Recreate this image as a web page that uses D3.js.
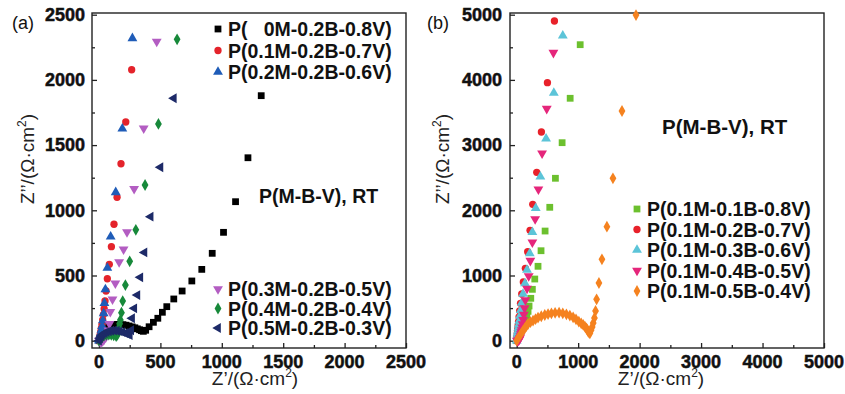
<!DOCTYPE html>
<meta charset="utf-8">
<style>
    body { margin: 0; background: #fff; }
    svg { display: block; font-family: "Liberation Sans", Arial, sans-serif; }
</style>
<svg width="845" height="394"></svg>
<script src="https://cdn.jsdelivr.net/npm/d3@7"></script>
<script>
    // ---- panel (a): P(xM-0.2B-yV) ----
    var a0X = [0, 8, 18, 30, 45, 62, 80, 100, 122, 145, 170, 195, 220, 245, 270, 292, 312, 330, 345, 361, 380, 408, 443, 479, 516, 552, 609, 677, 756, 837, 922, 1014, 1112, 1213, 1321];
    var a0Y = [0, 22, 45, 65, 84, 98, 110, 118, 123, 125, 125, 123, 119, 113, 106, 99, 91, 84, 77, 72, 80, 107, 141, 172, 218, 261, 320, 381, 458, 547, 670, 831, 1066, 1403, 1879];
    var a1X = [0, 3, 6, 10, 14, 19, 24, 30, 36, 42, 49, 57, 68, 84, 101, 122, 147, 179, 218, 266];
    var a1Y = [0, 12, 28, 48, 70, 95, 125, 160, 200, 245, 305, 381, 475, 586, 721, 893, 1100, 1357, 1677, 2078];
    var a2X = [0, 3, 6, 10, 15, 20, 26, 32, 38, 44, 52, 68, 95, 136, 190, 272];
    var a2Y = [0, 10, 22, 38, 58, 82, 112, 155, 210, 287, 394, 558, 798, 1138, 1626, 2319];
    var a3X = [0, 10, 20, 30, 42, 55, 68, 78, 85, 92, 110, 133, 164, 200, 228, 286, 364, 470];
    var a3Y = [0, -8, -8, -2, 10, 25, 45, 80, 130, 222, 317, 440, 603, 700, 833, 1165, 1629, 2293];
    var a4X = [0, 12, 25, 40, 60, 80, 100, 120, 140, 150, 157, 162, 168, 174, 183, 193, 215, 250, 300, 375, 484, 636];
    var a4Y = [0, 15, 28, 38, 45, 47, 45, 40, 35, 45, 70, 100, 130, 159, 215, 304, 427, 609, 850, 1194, 1662, 2311];
    var a5X = [0, 8, 18, 30, 45, 62, 80, 100, 122, 145, 168, 190, 212, 232, 250, 262, 269, 287, 312, 336, 370, 420, 500, 609];
    var a5Y = [0, 18, 35, 48, 58, 66, 72, 76, 78, 76, 72, 66, 58, 50, 44, 80, 172, 248, 350, 486, 677, 951, 1330, 1859];
    var aNames = ["P(   0M-0.2B-0.8V)", "P(0.1M-0.2B-0.7V)", "P(0.2M-0.2B-0.6V)",
        "P(0.3M-0.2B-0.5V)", "P(0.4M-0.2B-0.4V)", "P(0.5M-0.2B-0.3V)"];

    // ---- panel (b): P(0.1M-xB-yV) ----
    var b0X = [0, 10, 22, 35, 50, 65, 82, 100, 120, 142, 165, 185, 201, 229, 255, 294, 347, 396, 462, 538, 630, 739, 870, 1033];
    var b0Y = [0, 15, 35, 60, 90, 125, 165, 210, 260, 315, 375, 450, 532, 650, 788, 946, 1141, 1380, 1682, 2046, 2491, 3037, 3718, 4540];
    var b1X = [0, 3, 6, 9, 12, 15, 19, 24, 30, 38, 48, 62, 82, 108, 141, 179, 217, 261, 326, 402, 500, 614];
    var b1Y = [0, 30, 60, 90, 120, 150, 187, 234, 293, 366, 458, 573, 716, 900, 1110, 1365, 1693, 2092, 2583, 3201, 3957, 4903];
    var b2X = [0, 5, 9, 14, 20, 26, 33, 42, 53, 66, 82, 103, 135, 168, 212, 255, 310, 385, 478, 604, 750];
    var b2Y = [0, 40, 75, 110, 150, 195, 245, 305, 380, 470, 580, 716, 880, 1084, 1340, 1663, 2031, 2515, 3098, 3799, 4678];
    var b3X = [5, 15, 25, 35, 44, 52, 60, 68, 75, 82, 89, 97, 106, 116, 128, 141, 168, 195, 222, 255, 300, 353, 413, 489, 597];
    var b3Y = [0, -3, 2, 10, 25, 45, 70, 100, 131, 164, 205, 256, 320, 400, 500, 624, 798, 992, 1227, 1510, 1866, 2322, 2874, 3558, 4417];
    var b4X = [0, 21, 48, 75, 102, 130, 157, 184, 225, 266, 307, 347, 400, 457, 510, 565, 625, 690, 750, 809, 865, 918, 965, 1011, 1050, 1082, 1110, 1136, 1150, 1163, 1178, 1191, 1210, 1228, 1245, 1265, 1283, 1300, 1338, 1387, 1468, 1566, 1713, 1941];
    var b4Y = [0, 37, 75, 113, 152, 190, 225, 256, 285, 307, 332, 353, 375, 394, 408, 420, 427, 429, 420, 405, 385, 359, 328, 292, 265, 241, 215, 190, 165, 138, 125, 113, 160, 210, 270, 350, 456, 635, 885, 1248, 1748, 2491, 3523, 4995];
    var bNames = ["P(0.1M-0.1B-0.8V)", "P(0.1M-0.2B-0.7V)", "P(0.1M-0.3B-0.6V)",
        "P(0.1M-0.4B-0.5V)", "P(0.1M-0.5B-0.4V)"];

    var aTicks = [0, 500, 1000, 1500, 2000, 2500],
        bTicks = [0, 1000, 2000, 3000, 4000, 5000];

    var svg = d3.select("svg"),
        FONT_TICK = 18,
        FONT_LEG = 19.5,
        FONT_TITLE = 19;

    // marker shapes: [symbol, rotate, area]
    var SQUARE = [d3.symbolSquare, 0, 46],
        CIRCLE = [d3.symbolCircle, 0, 42],
        UP = [d3.symbolTriangle, 0, 42],
        DOWN = [d3.symbolTriangle, 180, 42],
        DIAMOND = [d3.symbolDiamond, 0, 40],
        LEFT = [d3.symbolTriangle, -90, 42];

    function pairs(xs, ys) {
        return xs.map(function (d, i) { return [d, ys[i]]; });
    }

    function symPath(shape) {
        return d3.symbol().type(shape[0]).size(shape[2])();
    }

    // tick marks only, labels are drawn by hand so they can be bold
    function tickMarks(sel) {
        sel.select(".domain").remove();
        sel.selectAll(".tick text").remove();
        sel.selectAll(".tick line").attr("stroke", "#222").attr("stroke-width", 1.3);
    }

    function heavy(sel) {
        sel.attr("font-size", FONT_TICK)
            .attr("font-weight", "bold")
            .attr("fill", "#111")
            .attr("stroke", "#111")
            .attr("stroke-width", 0.5);
    }

    function drawPanel(p) {
        var x = d3.scaleLinear().domain(p.xDom).range([p.left, p.right]),
            y = d3.scaleLinear().domain(p.yDom).range([348, 13]),
            g = svg.append("g");

        g.append("g").attr("transform", "translate(0,348)")
            .call(d3.axisBottom(x).tickValues(p.minor).tickSize(-3))
            .call(tickMarks);
        g.append("g").attr("transform", "translate(" + p.left + ",0)")
            .call(d3.axisLeft(y).tickValues(p.minor).tickSize(-3))
            .call(tickMarks);
        g.append("g").attr("transform", "translate(0,348)")
            .call(d3.axisBottom(x).tickValues(p.ticks).tickSize(-5))
            .call(tickMarks);
        g.append("g").attr("transform", "translate(" + p.left + ",0)")
            .call(d3.axisLeft(y).tickValues(p.ticks).tickSize(-5))
            .call(tickMarks);

        g.append("g").selectAll("text")
            .data(p.ticks)
            .enter()
            .append("text")
            .attr("x", function (d) { return x(d); })
            .attr("y", 368)
            .attr("text-anchor", "middle")
            .call(heavy)
            .text(function (d) { return d; });

        g.append("g").selectAll("text")
            .data(p.ticks)
            .enter()
            .append("text")
            .attr("x", p.left - p.yPad)
            .attr("y", function (d) { return y(d); })
            .attr("dy", "0.35em")
            .attr("text-anchor", "end")
            .call(heavy)
            .text(function (d) { return d; });

        g.append("rect")
            .attr("x", p.left).attr("y", 13)
            .attr("width", p.right - p.left).attr("height", 335)
            .attr("fill", "none").attr("stroke", "#222").attr("stroke-width", 1.4);

        // series
        p.series.forEach(function (s) {
            g.append("g").selectAll("path")
                .data(pairs(s.xs, s.ys))
                .enter()
                .append("path")
                .attr("d", symPath(s.shape))
                .attr("fill", s.color)
                .attr("transform", function (d) {
                    return "translate(" + x(d[0]) + "," + y(d[1]) + ") rotate(" + s.shape[1] + ")";
                });
        });

        // legend
        p.legend.forEach(function (l) {
            l.rows.forEach(function (idx, i) {
                var s = p.series[idx],
                    yy = l.y0 + i * l.dy;
                g.append("path")
                    .attr("d", symPath(s.shape))
                    .attr("fill", s.color)
                    .attr("transform", "translate(" + l.x + "," + yy + ") rotate(" + s.shape[1] + ")");
                g.append("text")
                    .attr("x", l.x + 10).attr("y", yy)
                    .attr("dy", "0.36em")
                    .attr("font-size", FONT_LEG)
                    .attr("font-weight", "bold")
                    .attr("fill", "#111")
                    .style("white-space", "pre")
                    .text(s.name);
            });
        });

        g.append("text")
            .attr("x", p.note[0]).attr("y", p.note[1])
            .attr("font-size", p.note[2])
            .attr("font-weight", "bold")
            .attr("fill", "#111")
            .text("P(M-B-V), RT");

        // axis titles
        var xt = g.append("text")
            .attr("x", p.xTitle).attr("y", 385)
            .attr("text-anchor", "middle")
            .attr("font-size", FONT_TITLE)
            .attr("fill", "#222")
            .text("Z’/(Ω·cm");
        xt.append("tspan").attr("font-size", 12).attr("dy", -8).text("2");
        xt.append("tspan").attr("dy", 8).text(")");

        var yt = g.append("text")
            .attr("transform", "translate(" + p.yTitle + ",159) rotate(-90)")
            .attr("text-anchor", "middle")
            .attr("font-size", FONT_TITLE)
            .attr("fill", "#222")
            .text("Z’’/(Ω·cm");
        yt.append("tspan").attr("font-size", 12).attr("dy", -8).text("2");
        yt.append("tspan").attr("dy", 8).text(")");

        g.append("text")
            .attr("x", p.tag[0]).attr("y", 29)
            .attr("font-size", 18)
            .attr("fill", "#111")
            .text(p.tag[1]);
    }

    drawPanel({
        left: 92, right: 406,
        xDom: [-57, 2500], yDom: [-56, 2513],
        ticks: aTicks,
        minor: [250, 750, 1250, 1750, 2250],
        yPad: 7,
        series: [
            {xs: a0X, ys: a0Y, shape: SQUARE, color: "#000000", name: aNames[0]},
            {xs: a1X, ys: a1Y, shape: CIRCLE, color: "#e4232b", name: aNames[1]},
            {xs: a2X, ys: a2Y, shape: UP, color: "#1f5cb8", name: aNames[2]},
            {xs: a3X, ys: a3Y, shape: DOWN, color: "#b35dc2", name: aNames[3]},
            {xs: a4X, ys: a4Y, shape: DIAMOND, color: "#17893a", name: aNames[4]},
            {xs: a5X, ys: a5Y, shape: LEFT, color: "#1d2a68", name: aNames[5]}
        ],
        legend: [
            {x: 218, y0: 29, dy: 21.5, rows: [0, 1, 2]},
            {x: 218, y0: 289, dy: 19.5, rows: [3, 4, 5]}
        ],
        note: [259, 203, 19.5],
        xTitle: 255,
        yTitle: 34,
        tag: [12, "(a)"]
    });

    drawPanel({
        left: 510, right: 824,
        xDom: [-109, 5000], yDom: [-112, 5026],
        ticks: bTicks,
        minor: [500, 1500, 2500, 3500, 4500],
        yPad: 8,
        series: [
            {xs: b0X, ys: b0Y, shape: SQUARE, color: "#6cc02e", name: bNames[0]},
            {xs: b1X, ys: b1Y, shape: CIRCLE, color: "#e8212a", name: bNames[1]},
            {xs: b2X, ys: b2Y, shape: UP, color: "#5cc4d8", name: bNames[2]},
            {xs: b3X, ys: b3Y, shape: DOWN, color: "#e5267b", name: bNames[3]},
            {xs: b4X, ys: b4Y, shape: DIAMOND, color: "#f5821f", name: bNames[4]}
        ],
        legend: [
            {x: 637, y0: 209, dy: 20.5, rows: [0, 1, 2, 3, 4]}
        ],
        note: [662, 134, 20.5],
        xTitle: 661,
        yTitle: 449,
        tag: [427, "(b)"]
    });
</script>
